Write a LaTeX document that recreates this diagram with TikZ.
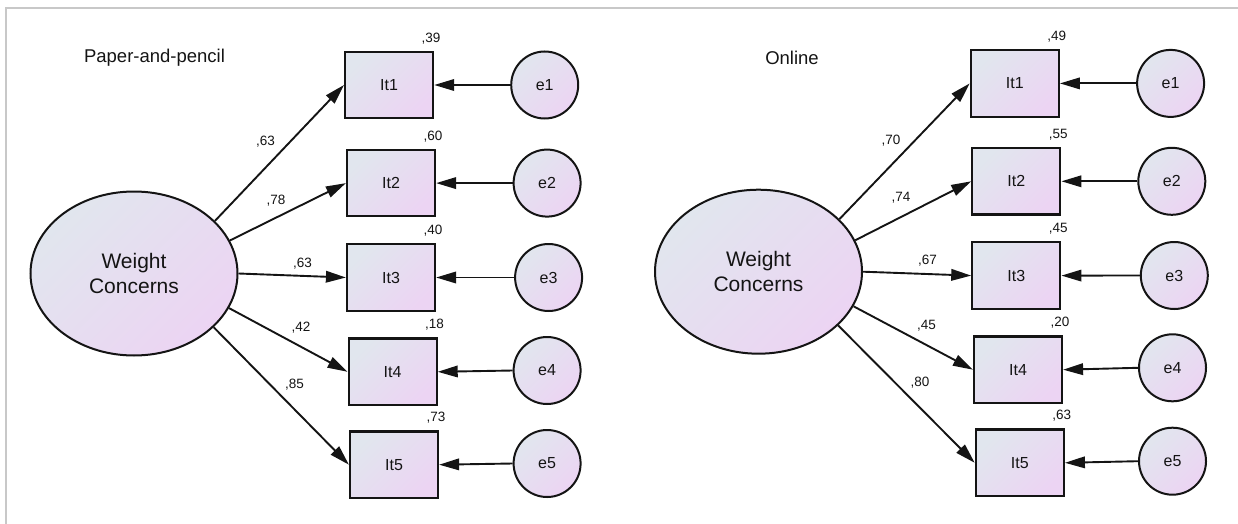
\documentclass[tikz,border=0pt]{standalone}
\usepackage{fontspec}
\setmainfont{Liberation Sans}
\usetikzlibrary{shapes.geometric,arrows.meta}

\definecolor{fillA}{HTML}{E1E6EE}
\definecolor{fillB}{HTML}{ECD4F3}
\definecolor{ink}{HTML}{141414}
\definecolor{framegray}{HTML}{C8C8C8}

\tikzset{
  grad/.style={top color=fillA, bottom color=fillB, shading angle=45},
  latent/.style={ellipse, draw=ink, line width=2pt, grad, inner sep=0pt,
    minimum width=207pt, minimum height=164pt, align=center,
    font=\fontsize{21}{25}\selectfont, text=ink},
  item/.style={rectangle, draw=ink, line width=2.2pt, grad, inner sep=0pt,
    minimum width=88pt, minimum height=66.5pt,
    font=\fontsize{16}{18}\selectfont, text=ink},
  err/.style={circle, draw=ink, line width=2pt, grad, inner sep=0pt,
    minimum size=67pt, font=\fontsize{16}{18}\selectfont, text=ink},
  lab/.style={inner sep=0pt, font=\fontsize{13.5}{15}\selectfont, text=ink},
  rsq/.style={lab, anchor=base east},
  title/.style={inner sep=0pt, font=\fontsize{18.5}{21}\selectfont, text=ink},
  load/.style={line width=1.9pt, draw=ink,
    -{Triangle[length=20pt,width=11.5pt]}},
  framel/.style={line width=2.3pt, draw=framegray}
}

\begin{document}
\begin{tikzpicture}[x=1pt,y=-1pt]
\useasboundingbox (0,0) rectangle (1238,524);

% outer frame (top and left edges)
\draw[framel] (5.8,524) -- (5.8,7.8) -- (1238,7.8);

% ---------------- Paper-and-pencil ----------------
\node[title] (Ltitle) at (154.5,57.5) {Paper-and-pencil};
\node[latent] (Lwc) at (134,273.5) {Weight\\Concerns};

\node[item] (Lit1) at (389.1,85.0)  {It1};
\node[item] (Lit2) at (391.0,183.1) {It2};
\node[item] (Lit3) at (391.0,277.5) {It3};
\node[item] (Lit4) at (392.6,371.8) {It4};
\node[item] (Lit5) at (394.0,464.7) {It5};

\node[err] (Le1) at (544.7,85.0)  {e1};
\node[err] (Le2) at (547.1,183.1) {e2};
\node[err] (Le3) at (548.6,277.5) {e3};
\node[err] (Le4) at (547.1,370.5) {e4};
\node[err] (Le5) at (547.1,463.5) {e5};

\node[rsq] (Lr1) at ([xshift=6.5pt,yshift=8.5pt]Lit1.north east) {,39};
\node[rsq] (Lr2) at ([xshift=6.5pt,yshift=8.5pt]Lit2.north east) {,60};
\node[rsq] (Lr3) at ([xshift=6.5pt,yshift=8.5pt]Lit3.north east) {,40};
\node[rsq] (Lr4) at ([xshift=6.5pt,yshift=8.5pt]Lit4.north east) {,18};
\node[rsq] (Lr5) at ([xshift=6.5pt,yshift=8.5pt]Lit5.north east) {,73};

\draw[load] (Lwc.33.3)  -- (Lit1.west);
\draw[load] (Lwc.19.3)  -- (Lit2.west);
\draw[load] (Lwc.-0.5)  -- (Lit3.west);
\draw[load] (Lwc.-20.6) -- (Lit4.west);
\draw[load] (Lwc.-34.9) -- (Lit5.west);

\draw[load] (Le1.west) -- (Lit1.east);
\draw[load] (Le2.west) -- (Lit2.east);
\draw[load] (Le3.west) -- (Lit3.east);
\draw[load] (Le4.west) -- (Lit4.east);
\draw[load] (Le5.west) -- (Lit5.east);

\node[lab] (Ll1) at (265.5,142) {,63};
\node[lab] (Ll2) at (276.0,201) {,78};
\node[lab] (Ll3) at (302.5,264) {,63};
\node[lab] (Ll4) at (301.0,328) {,42};
\node[lab] (Ll5) at (294.6,385) {,85};

% ---------------- Online ----------------
\node[title] (Rtitle) at (792,57.5) {Online};
\node[latent] (Rwc) at (758.5,271.7) {Weight\\Concerns};

\node[item] (Rit1) at (1014.8,83.4)  {It1};
\node[item] (Rit2) at (1016.3,181.3) {It2};
\node[item] (Rit3) at (1016.3,275.6) {It3};
\node[item] (Rit4) at (1018.0,369.7) {It4};
\node[item] (Rit5) at (1019.8,462.8) {It5};

\node[err] (Re1) at (1170.6,83.4)  {e1};
\node[err] (Re2) at (1171.8,181.3) {e2};
\node[err] (Re3) at (1174.3,275.5) {e3};
\node[err] (Re4) at (1172.5,367.8) {e4};
\node[err] (Re5) at (1172.5,461.2) {e5};

\node[rsq] (Rr1) at ([xshift=6.5pt,yshift=8.5pt]Rit1.north east) {,49};
\node[rsq] (Rr2) at ([xshift=6.5pt,yshift=8.5pt]Rit2.north east) {,55};
\node[rsq] (Rr3) at ([xshift=6.5pt,yshift=8.5pt]Rit3.north east) {,45};
\node[rsq] (Rr4) at ([xshift=6.5pt,yshift=8.5pt]Rit4.north east) {,20};
\node[rsq] (Rr5) at ([xshift=6.5pt,yshift=8.5pt]Rit5.north east) {,63};

\draw[load] (Rwc.33.6)  -- (Rit1.west);
\draw[load] (Rwc.18.7)  -- (Rit2.west);
\draw[load] (Rwc.-0.4)  -- (Rit3.west);
\draw[load] (Rwc.-20.5) -- (Rit4.west);
\draw[load] (Rwc.-34.0) -- (Rit5.west);

\draw[load] (Re1.west) -- (Rit1.east);
\draw[load] (Re2.west) -- (Rit2.east);
\draw[load] (Re3.west) -- (Rit3.east);
\draw[load] (Re4.west) -- (Rit4.east);
\draw[load] (Re5.west) -- (Rit5.east);

\node[lab] (Rl1) at (891.0,141) {,70};
\node[lab] (Rl2) at (901.0,198) {,74};
\node[lab] (Rl3) at (927.6,261) {,67};
\node[lab] (Rl4) at (926.4,326) {,45};
\node[lab] (Rl5) at (920.0,383) {,80};
\end{tikzpicture}
\end{document}
